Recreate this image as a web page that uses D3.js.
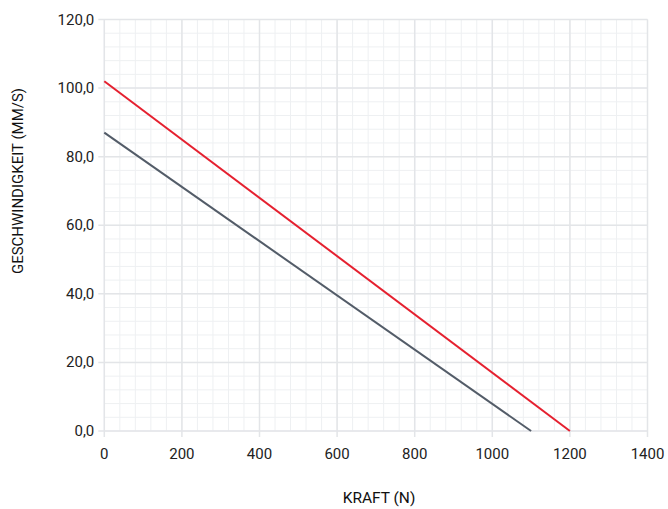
<!DOCTYPE html>
<html><head><meta charset="utf-8">
<script src="https://cdn.jsdelivr.net/npm/d3@7"></script>
<style>body{margin:0;background:#fff;} text{font-family:Roboto, "Noto Sans", sans-serif;}</style>
</head><body>
<svg id="c" width="668" height="509"></svg>
<script>
const xTicks = [0,200,400,600,800,1000,1200,1400];
const yTicks = [0,20,40,60,80,100,120];
const seriesRed = [[0,102],[1200,0]];
const seriesGray = [[0,87],[1100,0]];
const xTitle = "KRAFT (N)";
const yTitle = "GESCHWINDIGKEIT (MM/S)";

const svg = d3.select("#c");
const x = d3.scaleLinear().domain([0,1400]).range([104.3,647.5]);
const y = d3.scaleLinear().domain([0,120]).range([431,19.5]);

const g = svg.append("g");
// minor grid
d3.range(0,1401,40).forEach(v=>{
  g.append("line").attr("x1",x(v)).attr("x2",x(v)).attr("y1",y(120)).attr("y2",y(0))
   .attr("stroke","#eef0f2").attr("stroke-width",1);
});
d3.range(0,121,4).forEach(v=>{
  g.append("line").attr("y1",y(v)).attr("y2",y(v)).attr("x1",x(0)).attr("x2",x(1400))
   .attr("stroke","#eef0f2").attr("stroke-width",1);
});
// major grid with tick extension
xTicks.forEach(v=>{
  g.append("line").attr("x1",x(v)).attr("x2",x(v)).attr("y1",y(120)).attr("y2",y(0)+6)
   .attr("stroke","#e3e5e8").attr("stroke-width",1.5);
});
yTicks.forEach(v=>{
  g.append("line").attr("y1",y(v)).attr("y2",y(v)).attr("x1",x(0)-6).attr("x2",x(1400))
   .attr("stroke","#e3e5e8").attr("stroke-width",1.5);
});
// tick labels
xTicks.forEach(v=>{
  g.append("text").attr("x",x(v)).attr("y",y(0)+28).attr("text-anchor","middle")
   .attr("font-size",15).attr("fill","#222").text(v);
});
yTicks.forEach(v=>{
  g.append("text").attr("x",x(0)-10).attr("y",y(v)+5).attr("text-anchor","end")
   .attr("font-size",15).attr("fill","#222").text(v.toFixed(1).replace(".",","));
});
const line = d3.line().x(d=>x(d[0])).y(d=>y(d[1]));
g.append("path").datum(seriesGray).attr("d",line).attr("fill","none").attr("stroke","#535c68").attr("stroke-width",2);
g.append("path").datum(seriesRed).attr("d",line).attr("fill","none").attr("stroke","#e5202f").attr("stroke-width",2);

svg.append("text").attr("x",379).attr("y",503).attr("text-anchor","middle").attr("font-size",15.5).attr("fill","#111").text(xTitle);
svg.append("text").attr("transform","translate(23,181) rotate(-90)").attr("text-anchor","middle").attr("font-size",15).attr("fill","#111").text(yTitle);
</script>
</body></html>
